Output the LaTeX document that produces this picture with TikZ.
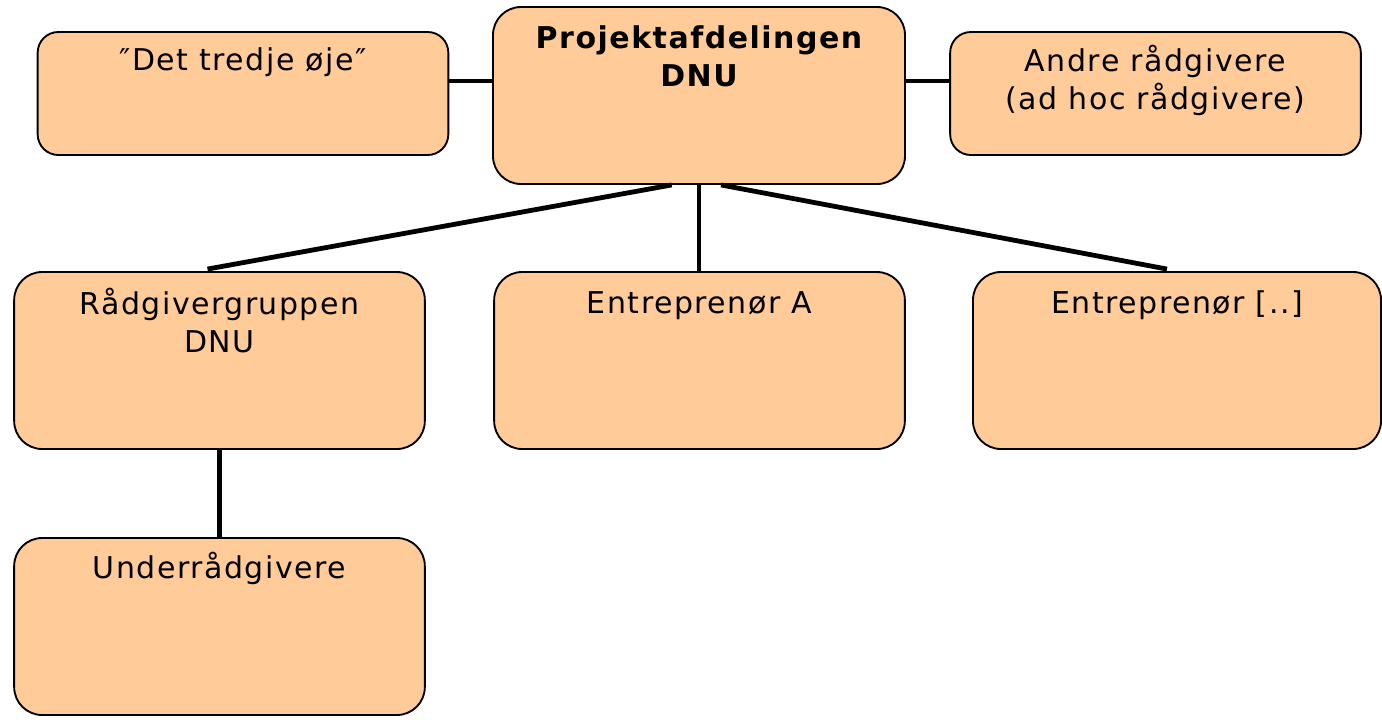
\documentclass[tikz,border=0pt]{standalone}
\usepackage{fontspec}
\usepackage{xcolor}
\usepackage{tikz}
\setmainfont{DejaVu Sans}[LetterSpace=5]
\definecolor{boxfill}{HTML}{FFCC99}
\tikzset{
  orgbox/.style={draw=black, line width=1.4pt, fill=boxfill, rectangle,
    minimum width=308pt, minimum height=92.25pt, rounded corners=15.5pt, inner sep=0pt},
  bigbox/.style={orgbox, minimum height=132.75pt, rounded corners=21pt},
  boxtext/.style={anchor=base, align=center, inner sep=0pt,
    font=\fontsize{22.5pt}{28.5pt}\selectfont},
  link/.style={line width=3.6pt, line cap=butt},
}

\begin{document}
\begin{tikzpicture}[x=0.75pt, y=-0.75pt]
            \useasboundingbox (0, 0) rectangle (1382, 719);
            % boxes
            \node[orgbox] (eye) at (243, 93.5) {};
            \node[bigbox, minimum width=309pt] (proj) at (699, 95.5) {};
            \node[orgbox] (andre) at (1155.5, 93.5) {};
            \node[bigbox] (raad) at (219.5, 360.5) {};
            \node[bigbox] (entA) at (699.5, 360.5) {};
            \node[bigbox, minimum width=306pt] (entX) at (1177, 360.5) {};
            \node[bigbox] (under) at (219.5, 626.5) {};
            % texts (base of a two-line node is its last line)
            \node[boxtext] (eyetxt) at ([yshift=-29.25pt]eye.north) {″Det tredje øje″};
            \node[boxtext, font=\fontsize{22.5pt}{28.5pt}\selectfont\bfseries] (projtxt) at ([yshift=-60pt]proj.north) {Projektafdelingen\\DNU};
            \node[boxtext] (andretxt) at ([yshift=-58.5pt]andre.north) {Andre rådgivere\\(ad hoc rådgivere)};
            \node[boxtext] (raadtxt) at ([yshift=-60.75pt]raad.north) {Rådgivergruppen\\DNU};
            \node[boxtext] (entAtxt) at ([yshift=-31.5pt]entA.north) {Entreprenør A};
            \node[boxtext] (entXtxt) at ([yshift=-31.5pt]entX.north) {Entreprenør [..]};
            \node[boxtext] (undertxt) at ([yshift=-30.75pt]under.north) {Underrådgivere};
            % connectors
            \draw[link] ([yshift=9.4pt]eye.east) -- ([yshift=9.4pt]eye.east -| proj.west);
            \draw[link] ([yshift=10.9pt]proj.east) -- ([yshift=10.9pt]proj.east -| andre.west);
            \draw[link] ([xshift=-20.5pt]proj.south) -- ([xshift=-9pt, yshift=1.5pt]raad.north);
            \draw[link] (proj.south) -- (proj.south |- entA.north);
            \draw[link] ([xshift=16.5pt]proj.south) -- ([xshift=-7.5pt, yshift=1.5pt]entX.north);
            \draw[link] (raad.south) -- (under.north);
        \end{tikzpicture}
\end{document}
